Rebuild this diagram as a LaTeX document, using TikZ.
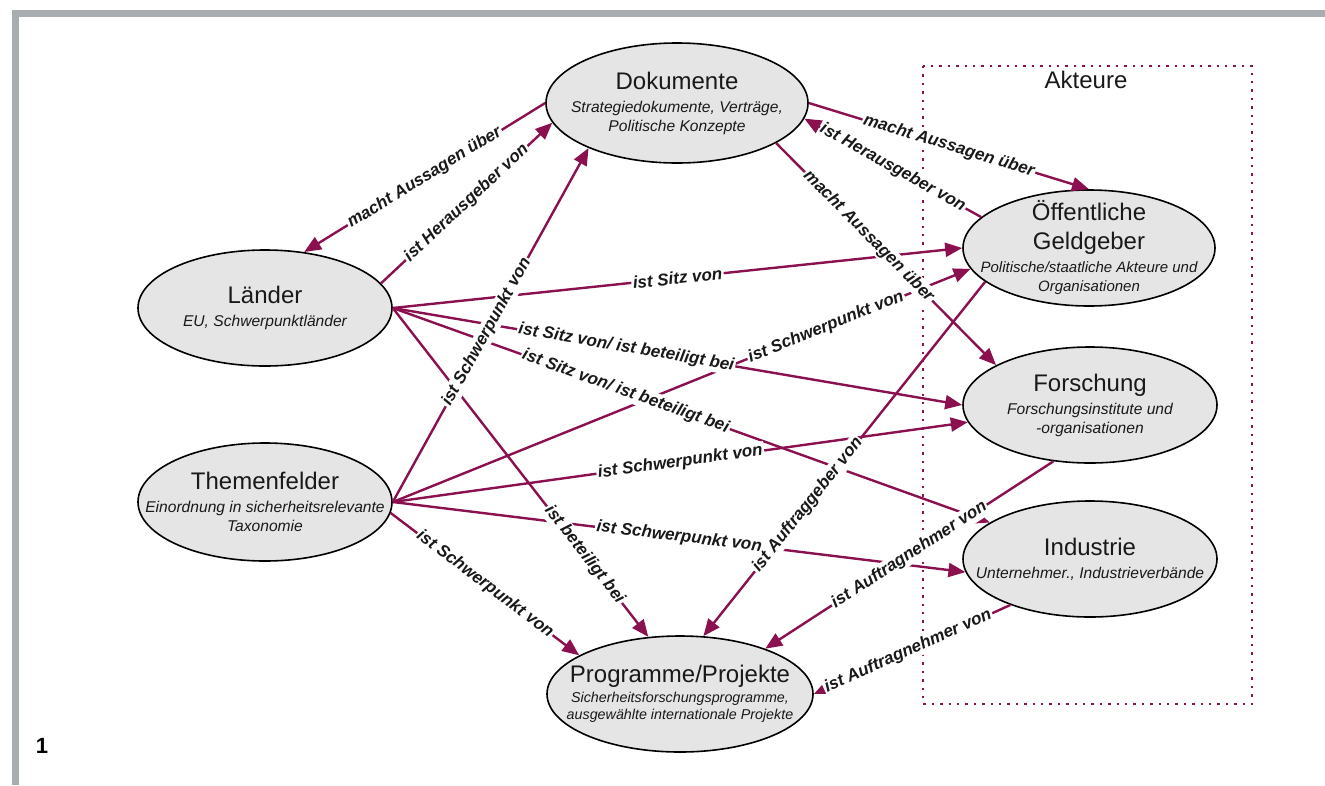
\documentclass[tikz,border=0pt]{standalone}
\usepackage{fontspec}
\setmainfont{Liberation Sans}
\usetikzlibrary{shapes.geometric, arrows.meta, positioning}
\definecolor{linkcol}{RGB}{139,16,80}
\definecolor{framegray}{RGB}{168,173,176}
\newcommand{\titel}[1]{{\fontsize{24}{28}\selectfont #1}}
\newcommand{\zusatz}[1]{{\itshape\fontsize{15.6}{18}\selectfont #1}}
\newcommand{\zusatzklein}[1]{{\itshape\fontsize{14.3}{17}\selectfont #1}}

\begin{document}
\begin{tikzpicture}[x=1pt, y=-1pt]
    % Setup the style for the states and the labels
        \tikzset{node style/.style={ellipse,
                                    draw=black,
                                    line width=1.6pt,
                                    fill=gray!20,
                                    minimum width=254pt,
                                    minimum height=116pt,
                                    inner sep=-40pt,
                                    align=center,
                                    text=black!90,
                                    font=\fontsize{15.6}{19}\selectfont},
                 label style/.style={sloped,
                                     fill=white,
                                     inner sep=1.5pt,
                                     text=black!90,
                                     font=\bfseries\itshape\fontsize{17}{19}\selectfont}}
        \useasboundingbox (0,0) rectangle (1325,785);
        % Frame and group box
        \fill[framegray] (12,9.5) rectangle (1325,16.5);
        \fill[framegray] (12,9.5) rectangle (19,785);
        \node[font=\bfseries\fontsize{22}{24}\selectfont] at (42,746) (nr) {1};
        \draw[linkcol, line width=2.2pt, dash pattern=on 2.4pt off 6pt] (923,66) rectangle (1252,704);
        \node[font=\fontsize{24}{26}\selectfont, text=black!90] at (1086,80) (akteure) {Akteure};
        % Draw the states
        \node[node style, minimum width=262pt, minimum height=120pt] at (677,103) (dok)
            {\titel{Dokumente}\\[4pt] \zusatz{Strategiedokumente, Verträge,}\\ \zusatz{Politische Konzepte}};
        \node[node style] at (265,308) (laender)
            {\titel{Länder}\\[4pt] \zusatz{EU, Schwerpunktländer}};
        \node[node style, minimum height=118pt] at (265,502) (themen)
            {\titel{Themenfelder}\\[4pt] \zusatz{Einordnung in sicherheitsrelevante}\\ \zusatz{Taxonomie}};
        \node[node style, minimum width=252pt, font=\fontsize{15}{19}\selectfont] at (1089,248) (geld)
            {\titel{Öffentliche}\\[10pt] \titel{Geldgeber}\\[4pt] {\itshape\fontsize{15}{18}\selectfont Politische/staatliche Akteure und}\\ {\itshape\fontsize{15}{18}\selectfont Organisationen}};
        \node[node style] at (1090,405) (forsch)
            {\titel{Forschung}\\[4pt] \zusatz{Forschungsinstitute und}\\ \zusatz{-organisationen}};
        \node[node style] at (1090,559) (indus)
            {\titel{Industrie}\\[4pt] \zusatz{Unternehmer., Industrieverbände}};
        \node[node style, minimum width=266pt, font=\fontsize{14.3}{17}\selectfont] at (680,694) (prog)
            {\titel{Programme/Projekte}\\[3pt] \zusatzklein{Sicherheitsforschungsprogramme,}\\ \zusatzklein{ausgewählte internationale Projekte}};
        % Connect the states with arrows
        \path[->,
              >={Triangle[length=17pt, width=14pt]},
              line width=2.4pt,
              color=linkcol,
              nodes={label style}]
            (dok.west)     edge node {macht Aussagen über} (laender.55)
            (laender.12)   edge node {ist Herausgeber von} (dok.189)
            (dok.east)     edge node {macht Aussagen über} (geld.north)
            (geld.164)     edge node {ist Herausgeber von} (dok.353)
            (laender.east) edge node {ist Sitz von} (geld.west)
            (themen.east)  edge node[pos=0.75] {ist Schwerpunkt von} (geld.190)
            (laender.east) edge node[pos=0.41] {ist Sitz von/ ist beteiligt bei} (forsch.west)
            (laender.east) edge node[pos=0.39] {ist Sitz von/ ist beteiligt bei} (indus.160)
            (themen.east)  edge node {ist Schwerpunkt von} (indus.186)
            (laender.east) edge node[pos=0.75] {ist beteiligt bei} (prog.119)
            (themen.east)  edge node[pos=0.48] {ist Schwerpunkt von} (dok.207)
            (themen.east)  edge node {ist Schwerpunkt von} (forsch.188)
            (themen.355)   edge node {ist Schwerpunkt von} (prog.159)
            (geld.198)     edge node[pos=0.63] {ist Auftraggeber von} (prog.68)
            (forsch.237)   edge node {ist Auftragnehmer von} (prog.28)
            (dok.338)      edge node[pos=0.42] {macht Aussagen über} (forsch.157)
            (indus.210)    edge node[pos=0.52] {ist Auftragnehmer von} (prog.east);
\end{tikzpicture}
\end{document}
